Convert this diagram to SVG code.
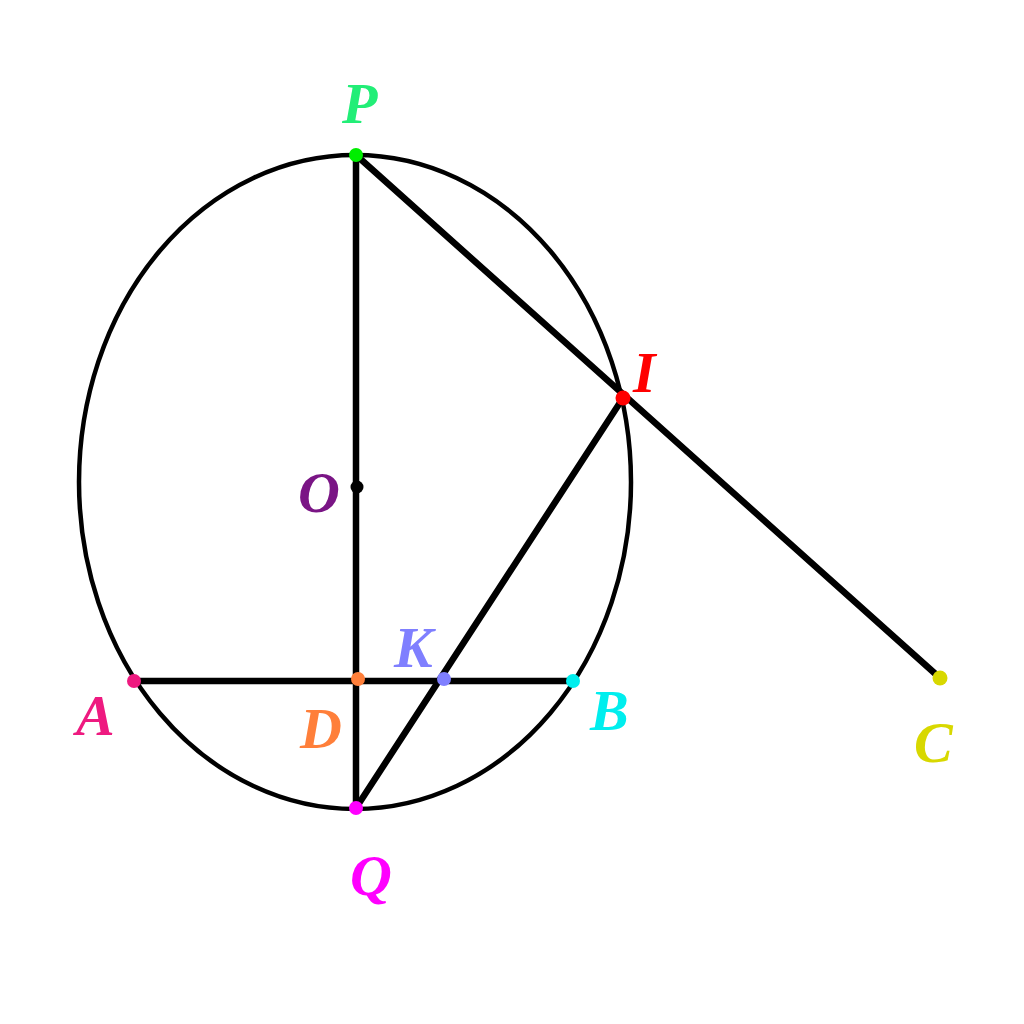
<svg xmlns="http://www.w3.org/2000/svg" width="1024" height="1024" viewBox="0 0 1024 1024">
<style>
.ln{stroke:#000;stroke-width:6.5;fill:none;stroke-linecap:round}
.el{stroke:#000;stroke-width:4.5;fill:none}
.lb{font-family:"Liberation Serif","Times New Roman",serif;font-style:italic;font-weight:bold;font-size:58px}
</style>
<rect width="1024" height="1024" fill="#fff"/>
<g id="circle"><ellipse class="el" cx="355" cy="482" rx="276" ry="327"/></g>
<g id="connectors">
<line class="ln" x1="356" y1="155" x2="356" y2="808"/>
<line class="ln" x1="356" y1="155" x2="940" y2="678"/>
<line class="ln" x1="134" y1="681" x2="573" y2="681"/>
<line class="ln" x1="356" y1="808" x2="623" y2="398"/>
</g>
<g id="P"><circle cx="356" cy="155" r="7" fill="#00ee00"/><text class="lb" x="342" y="123" fill="#22ee77">P</text></g>
<g id="I"><circle cx="623" cy="398" r="7.5" fill="#ff0000"/><text class="lb" x="633" y="392" fill="#ff0000">I</text></g>
<g id="O"><circle cx="357" cy="487" r="6.5" fill="#000"/><text class="lb" x="298" y="512" fill="#7a1585">O</text></g>
<g id="A"><circle cx="134" cy="681" r="7" fill="#ee1a80"/><text class="lb" x="76" y="735" fill="#ee1a80">A</text></g>
<g id="D"><circle cx="358" cy="679" r="7" fill="#ff7f3a"/><text class="lb" x="300" y="748" fill="#ff7f3a">D</text></g>
<g id="K"><circle cx="444" cy="679" r="7" fill="#7f7fff"/><text class="lb" x="394" y="667" fill="#7f7fff">K</text></g>
<g id="B"><circle cx="573" cy="681" r="7" fill="#00eeee"/><text class="lb" x="590" y="730" fill="#00eeee">B</text></g>
<g id="C"><circle cx="940" cy="678" r="7.5" fill="#d8d800"/><text class="lb" x="914" y="762" fill="#d8d800">C</text></g>
<g id="Q"><circle cx="356" cy="808" r="7" fill="#ff00ff"/><text class="lb" x="350" y="895" fill="#ff00ff">Q</text></g>
</svg>
